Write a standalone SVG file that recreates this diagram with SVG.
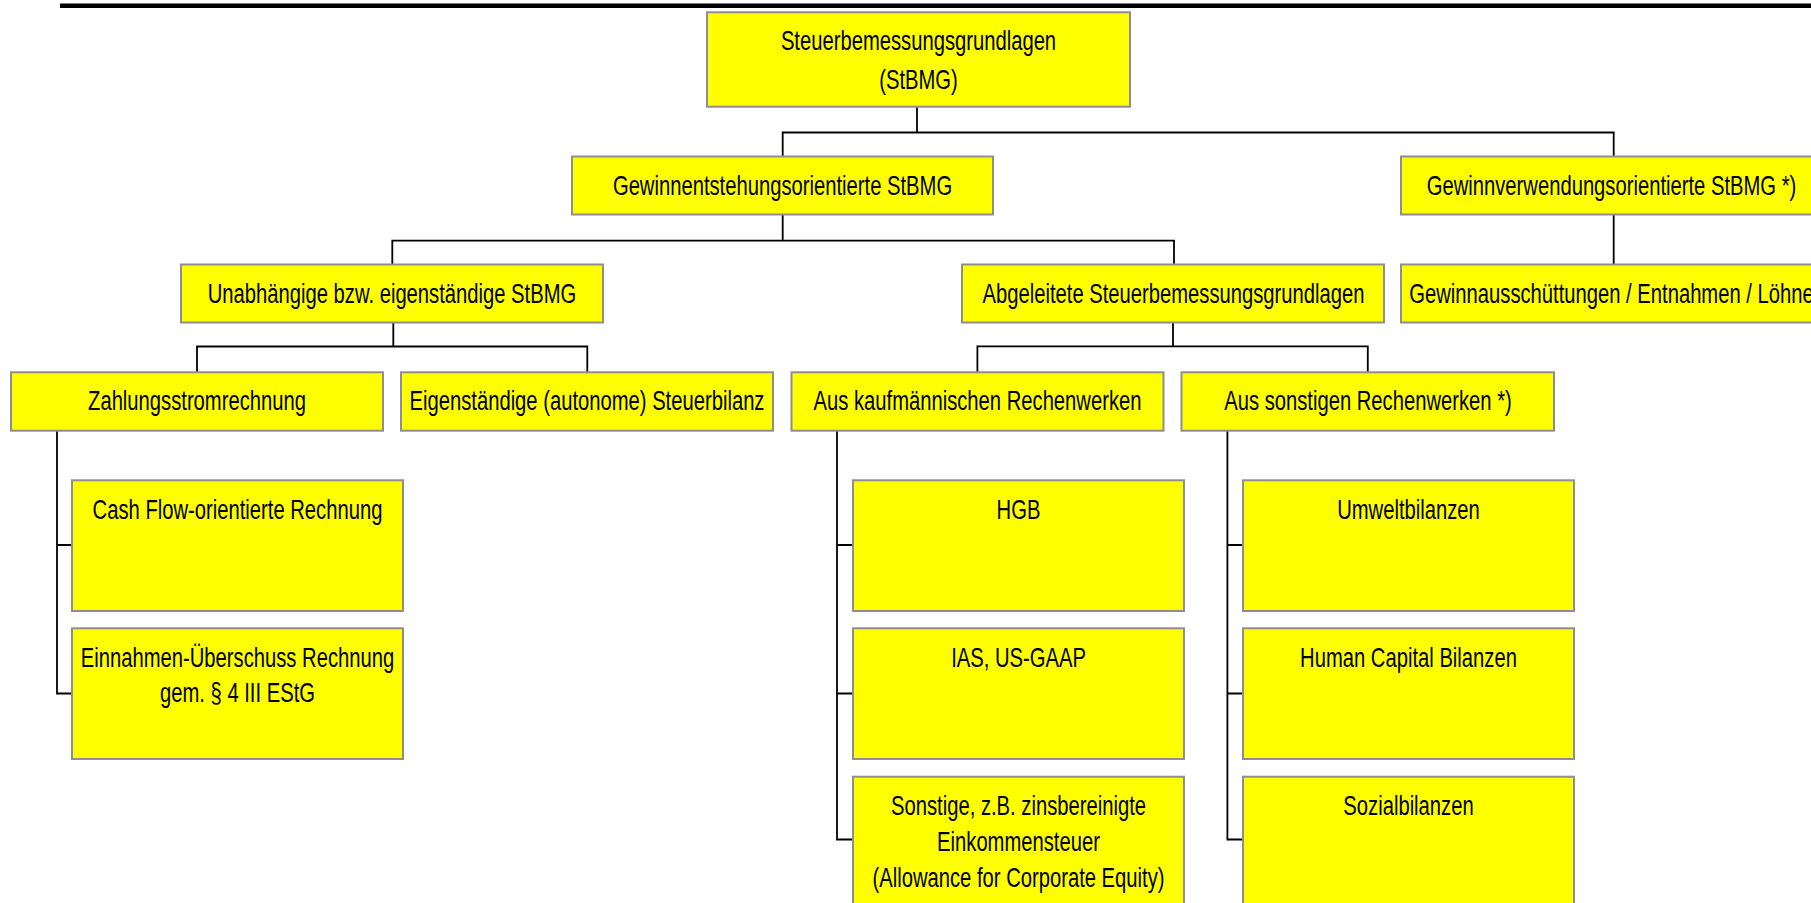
<svg xmlns="http://www.w3.org/2000/svg" width="1811" height="903" viewBox="0 0 1811 903">
<style>
.box{fill:#ffff00;stroke:#8e8e8e;stroke-width:2}
.t{font-family:"Liberation Sans",Arial,sans-serif;font-size:27.5px;fill:#000;text-anchor:middle}
.c{fill:none;stroke:#000;stroke-width:1.8}
</style>
<rect width="1811" height="903" fill="#fff"/>
<line x1="60" y1="5.7" x2="1811" y2="5.7" stroke="#000" stroke-width="4.5"/>
<g id="connectors" class="c">
<path d="M917 106.7V132.5"/>
<path d="M782.7 156.5V132.5H1613.7V156.5"/>
<path d="M782.7 214.5V240.7"/>
<path d="M392.3 264.5V240.7H1174V264.5"/>
<path d="M1613.7 214.5V264.5"/>
<path d="M393.3 322.5V346.5"/>
<path d="M197 372.3V346.5H587.3V372.3"/>
<path d="M1173 322.5V346.3"/>
<path d="M977.4 372.3V346.3H1367.8V372.3"/>
<path d="M57 430.7V693.5H72M57 545H72"/>
<path d="M837 430.7V839.5H853M837 545H853M837 693.5H853"/>
<path d="M1227.4 430.7V839.5H1243M1227.4 545H1243M1227.4 693.5H1243"/>
</g>
<g id="n-root"><rect class="box" x="707" y="12.3" width="423" height="94.4"/>
<text class="t" transform="translate(918.5,50) scale(0.735,1)"><tspan x="0">Steuerbemessungsgrundlagen</tspan><tspan x="0" dy="39">(StBMG)</tspan></text></g>
<g id="n-entstehung"><rect class="box" x="572" y="156.5" width="421" height="58"/>
<text class="t" transform="translate(782.5,194.5) scale(0.735,1)">Gewinnentstehungsorientierte StBMG</text></g>
<g id="n-verwendung"><rect class="box" x="1401" y="156.5" width="421" height="58"/>
<text class="t" transform="translate(1611.5,194.5) scale(0.735,1)">Gewinnverwendungsorientierte StBMG *)</text></g>
<g id="n-unabh"><rect class="box" x="181" y="264.5" width="422" height="58"/>
<text class="t" transform="translate(392,302.5) scale(0.735,1)">Unabhängige bzw. eigenständige StBMG</text></g>
<g id="n-abgel"><rect class="box" x="962" y="264.5" width="422" height="58"/>
<text class="t" transform="translate(1173.5,302.5) scale(0.735,1)">Abgeleitete Steuerbemessungsgrundlagen</text></g>
<g id="n-ausschuett"><rect class="box" x="1401" y="264.5" width="421" height="58"/>
<text class="t" transform="translate(1611.5,302.5) scale(0.735,1)">Gewinnausschüttungen / Entnahmen / Löhne</text></g>
<g id="n-zahlung"><rect class="box" x="11" y="372.3" width="372" height="58.4"/>
<text class="t" transform="translate(197,410) scale(0.735,1)">Zahlungsstromrechnung</text></g>
<g id="n-eigen"><rect class="box" x="401" y="372.3" width="372" height="58.4"/>
<text class="t" transform="translate(587,410) scale(0.735,1)">Eigenständige (autonome) Steuerbilanz</text></g>
<g id="n-kaufm"><rect class="box" x="791.5" y="372.3" width="372" height="58.4"/>
<text class="t" transform="translate(977.5,410) scale(0.735,1)">Aus kaufmännischen Rechenwerken</text></g>
<g id="n-sonst"><rect class="box" x="1181.5" y="372.3" width="372.5" height="58.4"/>
<text class="t" transform="translate(1368,410) scale(0.735,1)">Aus sonstigen Rechenwerken *)</text></g>
<g id="n-cashflow"><rect class="box" x="72" y="480.3" width="331" height="130.7"/>
<text class="t" transform="translate(237.5,518.5) scale(0.735,1)">Cash Flow-orientierte Rechnung</text></g>
<g id="n-eur"><rect class="box" x="72" y="628.3" width="331" height="130.7"/>
<text class="t" transform="translate(237.5,666.5) scale(0.735,1)"><tspan x="0">Einnahmen-Überschuss Rechnung</tspan><tspan x="0" dy="36">gem. § 4 III EStG</tspan></text></g>
<g id="n-hgb"><rect class="box" x="853" y="480.3" width="331" height="130.7"/>
<text class="t" transform="translate(1018.5,518.5) scale(0.735,1)">HGB</text></g>
<g id="n-ias"><rect class="box" x="853" y="628.3" width="331" height="130.7"/>
<text class="t" transform="translate(1018.5,666.5) scale(0.735,1)">IAS, US-GAAP</text></g>
<g id="n-sonstige"><rect class="box" x="853" y="776.7" width="331" height="130.7"/>
<text class="t" transform="translate(1018.5,815) scale(0.735,1)"><tspan x="0">Sonstige, z.B. zinsbereinigte</tspan><tspan x="0" dy="36">Einkommensteuer</tspan><tspan x="0" dy="36">(Allowance for Corporate Equity)</tspan></text></g>
<g id="n-umwelt"><rect class="box" x="1243" y="480.3" width="331" height="130.7"/>
<text class="t" transform="translate(1408.5,518.5) scale(0.735,1)">Umweltbilanzen</text></g>
<g id="n-human"><rect class="box" x="1243" y="628.3" width="331" height="130.7"/>
<text class="t" transform="translate(1408.5,666.5) scale(0.735,1)">Human Capital Bilanzen</text></g>
<g id="n-sozial"><rect class="box" x="1243" y="776.7" width="331" height="130.7"/>
<text class="t" transform="translate(1408.5,815) scale(0.735,1)">Sozialbilanzen</text></g>
</svg>
